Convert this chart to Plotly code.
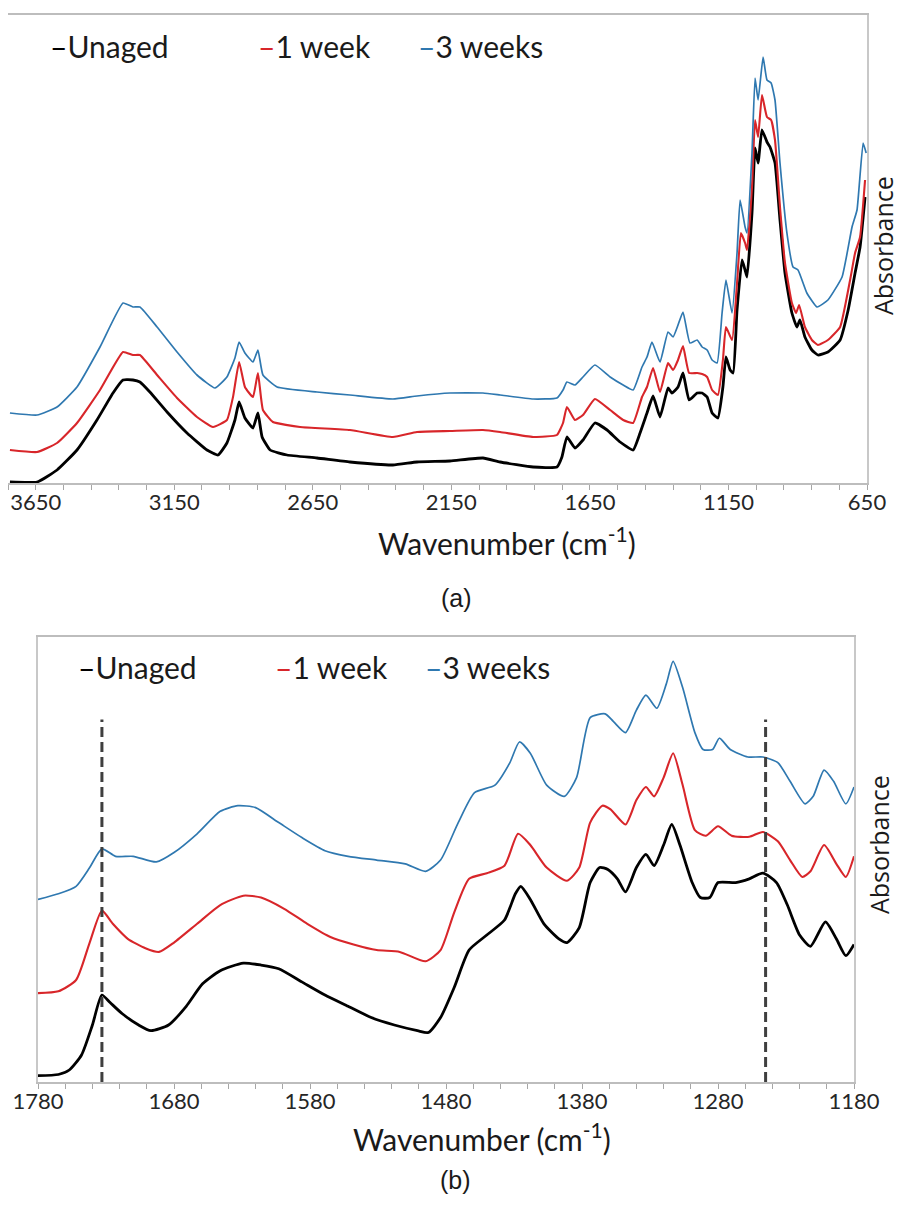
import plotly.graph_objects as go

# ---------------- Panel (a): full spectrum ----------------
wn_a_unaged = [3743, 3645, 3573, 3501, 3429, 3371, 3335, 3299, 3274, 3238, 3176, 3104, 3032, 2992, 2960, 2931,
               2916, 2895, 2866, 2848, 2833, 2804, 2743, 2635, 2516, 2361, 2274, 2155, 2036, 1974, 1855, 1769,
               1751, 1733, 1704, 1675, 1632, 1588, 1541, 1494, 1469, 1444, 1422, 1397, 1368, 1354, 1332, 1314,
               1292, 1263, 1245, 1227, 1209, 1188, 1170, 1159, 1144, 1133, 1119, 1101, 1090, 1083, 1065, 1054,
               1043, 1029, 1011, 1000, 982, 964, 946, 921, 903, 892, 874, 849, 827, 791, 747, 718, 693, 675, 657]
abs_a_unaged = [0.002, 0.002, 0.026, 0.066, 0.126, 0.180, 0.206, 0.206, 0.202, 0.182, 0.142, 0.100, 0.066, 0.056,
                0.080, 0.126, 0.162, 0.130, 0.110, 0.140, 0.092, 0.066, 0.056, 0.050, 0.042, 0.036, 0.042, 0.044,
                0.050, 0.042, 0.032, 0.032, 0.052, 0.092, 0.070, 0.086, 0.120, 0.106, 0.082, 0.066, 0.100, 0.140,
                0.174, 0.132, 0.190, 0.180, 0.192, 0.220, 0.166, 0.180, 0.180, 0.172, 0.140, 0.130, 0.192, 0.252,
                0.226, 0.220, 0.346, 0.446, 0.426, 0.412, 0.540, 0.670, 0.640, 0.706, 0.682, 0.672, 0.640, 0.526,
                0.420, 0.340, 0.312, 0.326, 0.292, 0.266, 0.256, 0.262, 0.286, 0.346, 0.420, 0.472, 0.572]

wn_a_1week = [3743, 3645, 3573, 3501, 3418, 3335, 3299, 3274, 3212, 3140, 3068, 3010, 2960, 2938, 2916, 2895,
              2866, 2848, 2830, 2794, 2696, 2516, 2361, 2274, 2155, 2036, 1974, 1855, 1769, 1747, 1733, 1704,
              1675, 1632, 1577, 1530, 1494, 1462, 1444, 1422, 1397, 1368, 1350, 1332, 1314, 1292, 1263, 1245,
              1227, 1209, 1188, 1170, 1159, 1137, 1119, 1105, 1090, 1083, 1065, 1054, 1043, 1029, 1011, 996,
              982, 964, 946, 921, 906, 895, 874, 849, 827, 791, 747, 711, 693, 675, 657]
abs_a_1week = [0.066, 0.062, 0.080, 0.120, 0.186, 0.262, 0.256, 0.256, 0.216, 0.170, 0.132, 0.112, 0.126, 0.172,
               0.242, 0.192, 0.172, 0.220, 0.146, 0.122, 0.112, 0.106, 0.092, 0.102, 0.104, 0.106, 0.102, 0.092,
               0.096, 0.120, 0.152, 0.126, 0.136, 0.168, 0.146, 0.126, 0.120, 0.172, 0.192, 0.230, 0.182, 0.240,
               0.226, 0.246, 0.274, 0.220, 0.220, 0.218, 0.212, 0.186, 0.176, 0.246, 0.312, 0.286, 0.400, 0.500,
               0.480, 0.466, 0.592, 0.726, 0.692, 0.776, 0.732, 0.726, 0.686, 0.552, 0.440, 0.360, 0.340, 0.356,
               0.312, 0.286, 0.276, 0.286, 0.312, 0.406, 0.460, 0.492, 0.606]

wn_a_3weeks = [3743, 3645, 3573, 3501, 3418, 3335, 3299, 3274, 3212, 3140, 3068, 3003, 2960, 2931, 2916, 2895,
               2866, 2848, 2830, 2779, 2635, 2516, 2361, 2274, 2155, 2036, 1974, 1855, 1769, 1747, 1733, 1704,
               1675, 1632, 1577, 1530, 1494, 1462, 1444, 1426, 1397, 1368, 1350, 1332, 1314, 1289, 1263, 1245,
               1227, 1209, 1191, 1173, 1159, 1137, 1119, 1108, 1090, 1083, 1065, 1054, 1043, 1025, 1011, 996,
               982, 964, 939, 917, 899, 867, 830, 791, 740, 704, 686, 664, 653]
abs_a_3weeks = [0.140, 0.136, 0.152, 0.192, 0.272, 0.360, 0.352, 0.352, 0.312, 0.262, 0.216, 0.190, 0.212, 0.250,
                0.282, 0.260, 0.242, 0.266, 0.216, 0.192, 0.182, 0.176, 0.168, 0.174, 0.180, 0.180, 0.176, 0.168,
                0.170, 0.186, 0.202, 0.196, 0.212, 0.236, 0.212, 0.196, 0.186, 0.232, 0.252, 0.282, 0.242, 0.302,
                0.292, 0.316, 0.342, 0.280, 0.286, 0.272, 0.266, 0.246, 0.240, 0.340, 0.406, 0.340, 0.460, 0.566,
                0.512, 0.500, 0.660, 0.810, 0.766, 0.852, 0.806, 0.800, 0.766, 0.640, 0.500, 0.432, 0.426, 0.380,
                0.352, 0.366, 0.412, 0.512, 0.546, 0.680, 0.660]

# ---------------- Panel (b): 1780-1180 cm-1 ----------------
wn_b_unaged = [1780, 1765, 1757, 1748, 1740, 1733, 1727, 1718, 1706, 1697, 1684, 1671, 1659, 1646, 1629, 1616,
               1603, 1586, 1569, 1552, 1535, 1518, 1501, 1493, 1484, 1474, 1463, 1450, 1437, 1429, 1425, 1418,
               1408, 1397, 1391, 1382, 1374, 1367, 1361, 1354, 1348, 1340, 1333, 1327, 1320, 1314, 1308, 1299,
               1293, 1286, 1280, 1267, 1257, 1247, 1237, 1229, 1220, 1212, 1201, 1193, 1186, 1180]
abs_b_unaged = [0.017, 0.020, 0.032, 0.072, 0.152, 0.232, 0.212, 0.182, 0.152, 0.137, 0.152, 0.202, 0.262, 0.297,
                0.317, 0.312, 0.302, 0.267, 0.232, 0.202, 0.172, 0.152, 0.137, 0.132, 0.172, 0.252, 0.352, 0.392,
                0.432, 0.502, 0.522, 0.487, 0.422, 0.382, 0.372, 0.412, 0.532, 0.572, 0.567, 0.542, 0.507, 0.572,
                0.607, 0.577, 0.632, 0.687, 0.632, 0.532, 0.492, 0.492, 0.532, 0.532, 0.542, 0.557, 0.532, 0.472,
                0.392, 0.362, 0.427, 0.382, 0.337, 0.367]

wn_b_1week = [1780, 1765, 1752, 1742, 1733, 1725, 1714, 1701, 1691, 1680, 1663, 1646, 1629, 1616, 1599, 1582,
              1565, 1548, 1531, 1514, 1495, 1484, 1474, 1463, 1450, 1437, 1427, 1418, 1406, 1391, 1382, 1374,
              1365, 1359, 1348, 1340, 1333, 1327, 1320, 1313, 1306, 1297, 1289, 1280, 1270, 1257, 1247, 1236,
              1227, 1218, 1212, 1202, 1193, 1186, 1180]
abs_b_1week = [0.237, 0.242, 0.272, 0.372, 0.457, 0.422, 0.382, 0.357, 0.347, 0.372, 0.422, 0.472, 0.497, 0.492,
               0.462, 0.422, 0.387, 0.367, 0.352, 0.347, 0.322, 0.352, 0.452, 0.542, 0.557, 0.577, 0.662, 0.632,
               0.572, 0.537, 0.572, 0.692, 0.737, 0.727, 0.687, 0.752, 0.787, 0.762, 0.812, 0.877, 0.792, 0.672,
               0.657, 0.682, 0.657, 0.654, 0.667, 0.642, 0.592, 0.547, 0.562, 0.632, 0.582, 0.547, 0.602]

wn_b_3weeks = [1780, 1765, 1752, 1742, 1733, 1723, 1710, 1693, 1680, 1663, 1646, 1633, 1620, 1603, 1586, 1569,
               1552, 1531, 1510, 1495, 1484, 1471, 1459, 1444, 1433, 1426, 1418, 1406, 1393, 1384, 1374, 1363,
               1357, 1348, 1340, 1333, 1325, 1318, 1313, 1306, 1297, 1291, 1284, 1279, 1271, 1258, 1247, 1236,
               1227, 1216, 1210, 1202, 1195, 1186, 1180]
abs_b_3weeks = [0.487, 0.502, 0.522, 0.572, 0.622, 0.602, 0.602, 0.587, 0.612, 0.662, 0.722, 0.737, 0.732, 0.692,
                0.652, 0.617, 0.602, 0.592, 0.582, 0.562, 0.592, 0.692, 0.772, 0.792, 0.852, 0.907, 0.877, 0.792,
                0.762, 0.812, 0.972, 0.982, 0.962, 0.932, 0.992, 1.032, 0.997, 1.062, 1.122, 1.052, 0.932, 0.887,
                0.887, 0.917, 0.887, 0.867, 0.867, 0.852, 0.802, 0.742, 0.762, 0.832, 0.802, 0.742, 0.787]

dash_positions_b = [1733, 1245]
dash_top_b = 0.967

series_names = ["Unaged", "1 week", "3 weeks"]
series_colors = ["#000000", "#d8262a", "#2f78b0"]
series_widths = [2.8, 2.1, 1.7]

ticks_a = [3650, 3150, 2650, 2150, 1650, 1150, 650]
ticks_b = [1780, 1680, 1580, 1480, 1380, 1280, 1180]

# The page body adds an 8px margin; size the figure so it fits the 907x1207 window exactly.
OFF = 8
W, H = 907 - 2 * OFF, 1207 - 2 * OFF


def px(x):
    return (x - OFF) / W


def py(y):
    return 1 - (y - OFF) / H


fig = go.Figure()

data_a = [(wn_a_unaged, abs_a_unaged), (wn_a_1week, abs_a_1week), (wn_a_3weeks, abs_a_3weeks)]
data_b = [(wn_b_unaged, abs_b_unaged), (wn_b_1week, abs_b_1week), (wn_b_3weeks, abs_b_3weeks)]

for i, (xs, ys) in enumerate(data_a):
    fig.add_trace(go.Scatter(x=xs, y=ys, mode="lines", name=series_names[i], showlegend=False,
                             line=dict(color=series_colors[i], width=series_widths[i],
                                       shape="spline", smoothing=0.4),
                             xaxis="x", yaxis="y"))
for i, (xs, ys) in enumerate(data_b):
    fig.add_trace(go.Scatter(x=xs, y=ys, mode="lines", name=series_names[i], showlegend=False,
                             line=dict(color=series_colors[i], width=series_widths[i],
                                       shape="spline", smoothing=0.6),
                             xaxis="x2", yaxis="y2"))

tick_font = dict(family="Lato, Open Sans, sans-serif", size=22, color="#262626")
axis_common = dict(showline=True, linecolor="#bdbdbd", linewidth=1.5, mirror=True,
                   showgrid=False, zeroline=False, ticks="outside", ticklen=5,
                   tickcolor="#a6a6a6", tickwidth=1.2, tickfont=tick_font, automargin=False,
                   ticklabelstandoff=-6)
yaxis_common = dict(showline=True, linecolor="#c8c8c8", linewidth=1.5, mirror=True,
                    showgrid=False, zeroline=False, showticklabels=False, ticks="", automargin=False)

fig.update_layout(
    template="none",
    width=W, height=H,
    margin=dict(l=0, r=0, t=0, b=0, pad=0, autoexpand=False),
    paper_bgcolor="white", plot_bgcolor="white",
    showlegend=False,
    xaxis=dict(domain=[px(8), px(867)], range=[3750, 650], anchor="y",
               tickvals=ticks_a, ticktext=[str(t) for t in ticks_a],
               minor=dict(ticks="outside", dtick=100, tick0=650, ticklen=5,
                          tickcolor="#a6a6a6", tickwidth=1.2),
               **axis_common),
    yaxis=dict(domain=[py(483), py(15)], range=[0, 0.936], anchor="x", **yaxis_common),
    xaxis2=dict(domain=[px(38), px(854)], range=[1780, 1180], anchor="y2",
                tickvals=ticks_b, ticktext=[str(t) for t in ticks_b],
                minor=dict(ticks="outside", dtick=20, tick0=1180, ticklen=5,
                           tickcolor="#a6a6a6", tickwidth=1.2),
                **axis_common),
    yaxis2=dict(domain=[py(1082), py(637)], range=[0, 1.187], anchor="x2", **yaxis_common),
)

for xv in dash_positions_b:
    fig.add_shape(type="line", xref="x2", yref="y2", x0=xv, x1=xv, y0=0, y1=dash_top_b,
                  line=dict(color="#3f3f3f", width=3, dash="10px,5px"))

ann = []
legend_font = dict(family="Lato, Open Sans, sans-serif", size=30, color="#1a1a1a")


def legend_items(y, xs):
    for name, color, x in zip(series_names, series_colors, xs):
        ann.append(dict(xref="paper", yref="paper", x=px(x), y=py(y), xanchor="left", yanchor="middle",
                        showarrow=False, font=legend_font,
                        text=f"<span style='color:{color}'>–</span>{name}"))


legend_items(46, [48, 256, 416])
legend_items(667, [76, 273, 423])

title_font = dict(family="Lato, Open Sans, sans-serif", size=30, color="#1a1a1a")
ann.append(dict(xref="paper", yref="paper", x=px(507), y=py(541), xanchor="center", yanchor="middle",
                showarrow=False, font=title_font, text="Wavenumber (cm<sup>-1</sup>)"))
ann.append(dict(xref="paper", yref="paper", x=px(482), y=py(1137), xanchor="center", yanchor="middle",
                showarrow=False, font=title_font, text="Wavenumber (cm<sup>-1</sup>)"))

abs_font = dict(family="Open Sans, sans-serif", size=25, color="#1a1a1a")
ann.append(dict(xref="paper", yref="paper", x=px(883), y=py(246), xanchor="center", yanchor="middle",
                showarrow=False, font=abs_font, text="Absorbance", textangle=-90))
ann.append(dict(xref="paper", yref="paper", x=px(879), y=py(845), xanchor="center", yanchor="middle",
                showarrow=False, font=abs_font, text="Absorbance", textangle=-90))

lab_font = dict(family="Liberation Sans, Arial, sans-serif", size=25, color="#1a1a1a")
ann.append(dict(xref="paper", yref="paper", x=px(456), y=py(598), xanchor="center", yanchor="middle",
                showarrow=False, font=lab_font, text="(a)"))
ann.append(dict(xref="paper", yref="paper", x=px(455), y=py(1180), xanchor="center", yanchor="middle",
                showarrow=False, font=lab_font, text="(b)"))

fig.update_layout(annotations=ann)

fig.write_html("out.html")
